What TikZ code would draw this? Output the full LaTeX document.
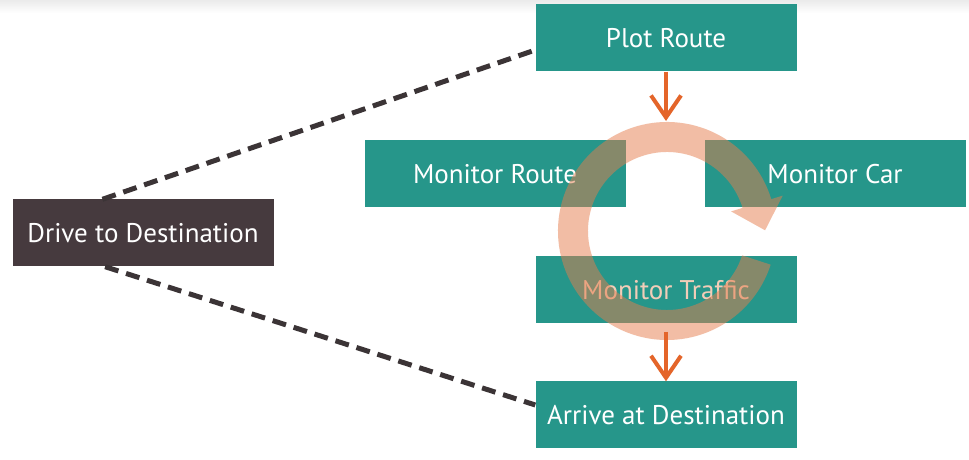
\documentclass[tikz,border=0pt]{standalone}
\usepackage{fontspec}
\setmainfont{PT Sans}
\usetikzlibrary{calc,arrows.meta}
\definecolor{teal1}{HTML}{26968A}
\definecolor{darkbox}{HTML}{463A3E}
\definecolor{dashc}{HTML}{3B3436}
\definecolor{orng}{HTML}{E4652A}
\definecolor{peach}{HTML}{E67D4C}
\definecolor{peachtxt}{HTML}{F2CDB8}
\tikzset{
  box/.style={fill=teal1, text=white, minimum width=261pt, minimum height=67pt, inner sep=0pt, font=\fontsize{27}{31}\selectfont},
  darkboxs/.style={box, fill=darkbox},
  dashline/.style={draw=dashc, line width=5pt, dash pattern=on 14pt off 8pt},
  flow/.style={draw=orng, line width=4pt, -{Straight Barb[length=22pt,width=30pt,line width=4pt]}},
}
\begin{document}
\begin{tikzpicture}[x=1pt,y=1pt]
\useasboundingbox (0,0) rectangle (969,460);
\fill[white] (0,0) rectangle (969,460);
\shade[top color=black!8, bottom color=white] (0,447) rectangle (969,460);
% boxes (y = 460 - pixel y)
\node[box] (plot) at (666,422) {Plot Route};
\node[box] (mroute) at (495,286) {Monitor Route};
\node[box] (mcar) at (835,286) {Monitor Car};
\node[box, text=peachtxt] (mtraffic) at (666,170) {Monitor Traffic};
\node[box] (arrive) at (666,45) {Arrive at Destination};
\node[darkboxs] (drive) at (143,227) {Drive to Destination};
% dashed connectors
\coordinate (dt) at ($(drive.north west)!0.345!(drive.north east)$);
\coordinate (db) at ($(drive.south west)!0.355!(drive.south east)$);
\coordinate (pl) at ($(plot.west)+(0,-12)$);
\coordinate (al) at ($(arrive.west)+(0,10)$);
\draw[dashline] (dt) -- (pl);
\draw[dashline] (db) -- (al);
% cycle ring
\coordinate (c) at (667,229);
\fill[peach, fill opacity=0.5]
  ($(c)+(-18:109pt)$) arc[start angle=-18, end angle=-343, radius=109pt]
  -- ($(c)+(17:121pt)$)
  -- ($(c)+(17:94pt)+(-73:28pt)$)
  -- ($(c)+(17:67pt)$)
  -- ($(c)+(17:79pt)$) arc[start angle=-343, end angle=-18, radius=79pt]
  -- cycle;
% orange flow arrows
\coordinate (ringtop) at (666,339);
\coordinate (ringbot) at (666,128);
\draw[flow] (plot.south) -- (ringtop);
\draw[flow] (ringbot) -- (arrive.north);
\end{tikzpicture}
\end{document}
